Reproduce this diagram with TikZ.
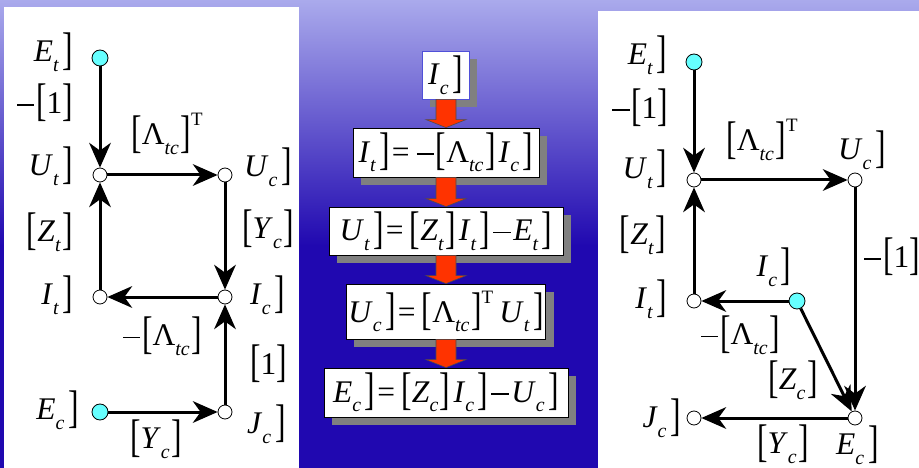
\documentclass[tikz,border=0pt]{standalone}
\usepackage{graphicx}
\usepackage{fontspec}
\setmainfont{Liberation Serif}
\usetikzlibrary{arrows.meta,calc,shadows}
\definecolor{bgtop}{HTML}{AAAAEC}
\definecolor{bgbot}{HTML}{2008B0}
\definecolor{cyanfill}{HTML}{66FFFF}
\definecolor{redarr}{HTML}{FF3300}
\definecolor{boxblue}{HTML}{5050D8}
\newcommand\RB{\raisebox{-0.075em}{\scalebox{1}[1.45]{]}}}
\newcommand\LB{\raisebox{-0.075em}{\scalebox{1}[1.45]{[}}}
\newcommand\SB[1]{\raisebox{-0.3em}{\scalebox{0.63}{\itshape #1}}}
\newcommand\SP[1]{\raisebox{0.6em}{\scalebox{0.6}{#1}}}
\newcommand\VV[2]{\textit{#1}\SB{#2}\kern0.12em\RB}
\newcommand\MM[2]{\LB\textit{#1}\SB{#2}\kern0.05em\RB}
\newcommand\LAM{\LB Λ\SB{tc}\kern0.05em\RB}
\newcommand\ONE{\LB 1\RB}
\newcommand\MN{\kern0.03em\rule[0.24em]{0.55em}{0.045em}\kern0.05em}
\newcommand\EQ{\kern0.06em=\kern0.2em}
\newcommand\MI{\kern0.06em\MN\kern0.04em}
\newcommand\blkarrow[2]{%
  \draw[blk] ($(#1.south -| #2.north)+(-10,0)$) -- ($(#2.north)+(-10,-8)$)
    -- ($(#2.north)+(-20,-8)$) -- (#2.north) -- ($(#2.north)+(20,-8)$)
    -- ($(#2.north)+(10,-8)$) -- ($(#1.south -| #2.north)+(10,0)$) -- cycle;}
\begin{document}
\begin{tikzpicture}[x=1pt,y=-1pt,
  lab/.style={font=\fontsize{31.5}{38}\selectfont, inner sep=0pt},
  pt/.style={circle,draw=black,line width=0.8pt,fill=white,minimum size=14pt,inner sep=0pt},
  src/.style={pt,fill=cyanfill,minimum size=16pt},
  arr/.style={line width=3pt,-{Stealth[length=25pt,width=22pt,inset=8pt,line width=0pt]}},
  eqbox/.style={draw=black,line width=0.8pt,fill=white,inner sep=2pt,
    font=\fontsize{31.5}{38}\selectfont,
    drop shadow={shadow xshift=8pt,shadow yshift=-8pt,fill=black!50,opacity=1}},
  blk/.style={fill=redarr,draw=black!70,line width=0.6pt,line join=miter}
]
\useasboundingbox (0,0) rectangle (919,468);
\shade[top color=bgtop,bottom color=bgbot] (0,0) rectangle (919,246);
\fill[bgbot] (0,245) rectangle (919,468);
\fill[white] (4,7) rectangle (299,468);
\fill[white] (598,11) rectangle (919,468);

% ---------- left panel ----------
\node[src] (LEt) at (100,58) {};
\node[pt] (LUt) at (100,175) {};
\node[pt] (LUc) at (225,175) {};
\node[pt] (LIt) at (100,297) {};
\node[pt] (LIc) at (225,297) {};
\node[src] (LEc) at (100,412) {};
\node[pt] (LJc) at (225,412) {};
\draw[arr] (LEt) -- (LUt);
\draw[arr] (LIt) -- (LUt);
\draw[arr] (LUt) -- (LUc);
\draw[arr] (LUc) -- (LIc);
\draw[arr] (LIc) -- (LIt);
\draw[arr] (LJc) -- (LIc);
\draw[arr] (LEc) -- (LJc);

\node[lab,anchor=east] (lEt) at (73,52) {\VV{E}{t}};
\node[lab,anchor=east] (lm1) at (73,103) {\MN\ONE};
\node[lab] (lLT) at (167,134) {\LAM\SP{T}};
\node[lab,anchor=east] (lUt) at (73,166) {\VV{U}{t}};
\node[lab,anchor=west] (lUc) at (244,167) {\VV{U}{c}};
\node[lab,anchor=east] (lZt) at (73,232) {\MM{Z}{t}};
\node[lab,anchor=west] (lYc) at (242,229) {\MM{Y}{c}};
\node[lab,anchor=east] (lIt) at (73,295) {\VV{I}{t}};
\node[lab,anchor=west] (lIc) at (250,295) {\VV{I}{c}};
\node[lab] (lmL) at (162,336) {\MN\LAM};
\node[lab,anchor=west] (l1) at (250,364) {\ONE};
\node[lab,anchor=east] (lEc) at (79,410) {\VV{E}{c}};
\node[lab,anchor=west] (lJc) at (247,424) {\VV{J}{c}};
\node[lab] (lYc2) at (156,439) {\MM{Y}{c}};

% ---------- centre column ----------
\node[eqbox,draw=boxblue,minimum width=47pt,minimum height=48pt] (b1) at (445.5,75) {\VV{I}{c}};
\node[eqbox,minimum width=186pt,minimum height=49pt] (b2) at (446,152.5) {\VV{I}{t}\EQ\MN\LAM\kern0.1em\VV{I}{c}};
\node[eqbox,minimum width=234pt,minimum height=48pt] (b3) at (446,231) {\VV{U}{t}\EQ\MM{Z}{t}\kern0.1em\VV{I}{t}\MI\VV{E}{t}};
\node[eqbox,minimum width=198pt,minimum height=55pt] (b4) at (446,311.5) {\VV{U}{c}\EQ\LAM\SP{T}\kern0.2em\VV{U}{t}};
\node[eqbox,minimum width=244pt,minimum height=49pt] (b5) at (446,392.5) {\VV{E}{c}\EQ\MM{Z}{c}\kern0.1em\VV{I}{c}\MI\VV{U}{c}};
\blkarrow{b1}{b2}
\blkarrow{b2}{b3}
\blkarrow{b3}{b4}
\blkarrow{b4}{b5}

% ---------- right panel ----------
\node[src] (REt) at (694,62) {};
\node[pt] (RUt) at (694,180) {};
\node[pt] (RUc) at (855,180) {};
\node[pt] (RIt) at (694,301) {};
\node[src] (RIc) at (797,301) {};
\node[pt] (REc) at (855,418) {};
\node[pt] (RJc) at (694,418) {};
\draw[arr] (REt) -- (RUt);
\draw[arr] (RIt) -- (RUt);
\draw[arr] (RUt) -- (RUc);
\draw[arr] (RUc) -- (REc);
\draw[arr] (RIc) -- (RIt);
\draw[arr] (RIc) -- (REc);
\draw[arr] (REc) -- (RJc);

\node[lab,anchor=east] (rEt) at (667,55) {\VV{E}{t}};
\node[lab,anchor=east] (rm1) at (668,108) {\MN\ONE};
\node[lab] (rLT) at (762,140) {\LAM\SP{T}};
\node[lab,anchor=east] (rUt) at (667,169) {\VV{U}{t}};
\node[lab,anchor=west] (rUc) at (838,150) {\VV{U}{c}};
\node[lab,anchor=east] (rZt) at (666,235) {\MM{Z}{t}};
\node[lab,anchor=west] (rm1b) at (863,257) {\MN\ONE};
\node[lab] (rIc) at (774,267) {\VV{I}{c}};
\node[lab,anchor=east] (rIt) at (667,299) {\VV{I}{t}};
\node[lab] (rmL) at (740,335) {\MN\LAM};
\node[lab] (rZc) at (793,380) {\MM{Z}{c}};
\node[lab,anchor=east] (rJc) at (681,418) {\VV{J}{c}};
\node[lab] (rYc) at (783,444) {\MM{Y}{c}};
\node[lab,anchor=west] (rEc) at (836,445) {\VV{E}{c}};
\end{tikzpicture}
\end{document}
